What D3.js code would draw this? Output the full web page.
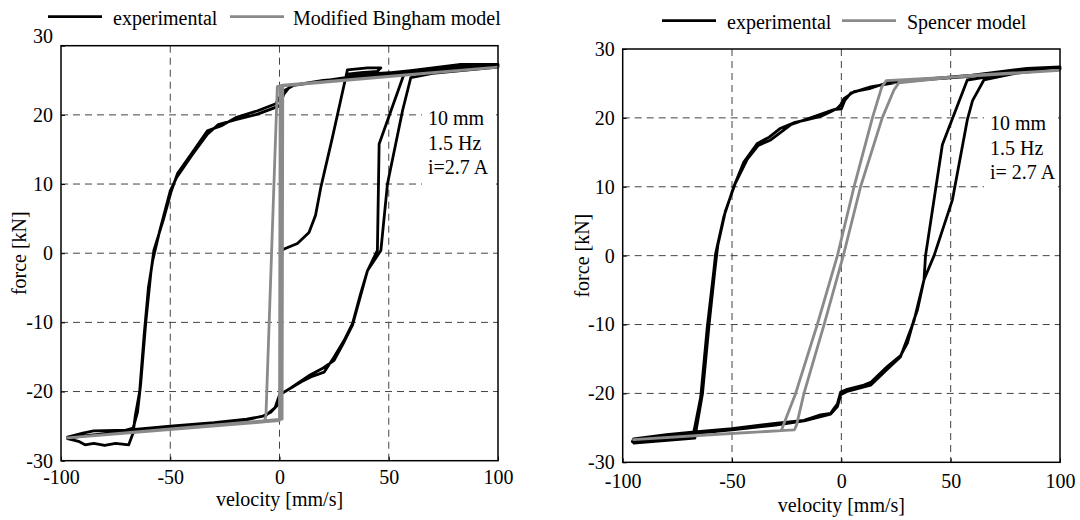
<!DOCTYPE html>
<html lang="en">
<head>
  <meta charset="UTF-8">
  <title>MR damper force-velocity loops</title>
  <script src="https://d3js.org/d3.v7.min.js"></script>
  <style>
    body { margin: 0; background: #fff; }
    svg text { font-family: "Liberation Serif", "Times New Roman", serif; fill: #000; }
    .grid line { stroke: #444; stroke-width: 1; stroke-dasharray: 7,5; }
    .frame { fill: none; stroke: #000; stroke-width: 1.5; }
  </style>
</head>
<body>
<svg id="chart" width="1080" height="520"></svg>
<script>
  // axis ticks
  const velTicks = [-100, -50, 0, 50, 100];
  const forceTicks = [-30, -20, -10, 0, 10, 20, 30];

  // left panel: experimental loop (velocity mm/s, force kN), two cycles + start transient
  const expBingham = [
    [0.5, 0.3], [2.1, 0.6], [8.2, 1.4], [13.5, 3.0], [16.5, 5.5], [18.9, 9.5], [24.2, 16.7], [29.6, 24.4],
    [31.1, 26.5], [40.3, 26.8], [46.4, 26.8], [44.8, 26.3], [37.2, 26.1], [31.1, 25.9], [45, 26.0],
    [60, 26.3], [80, 27.0], [100, 27.3],
    [100, 27.1], [80, 26.6], [60, 26.0], [40, 25.5], [20, 25.0], [6.7, 24.3], [2.1, 23.5], [0, 22.5],
    [-1.7, 21.6], [-10, 20.6], [-20, 19.6], [-26.8, 18.4], [-33, 17.7], [-40, 14.5], [-46.7, 11.5],
    [-49.7, 8.8], [-53, 5.0], [-57.5, 0.4], [-58.9, -2.9], [-61.2, -10], [-63.5, -18.8], [-65, -23],
    [-67, -25.3], [-75, -26.0], [-97, -26.6],
    [-90, -26.0], [-85, -25.7], [-70, -25.6], [-50, -25.0], [-30, -24.5], [-15, -24.0], [-8, -23.6],
    [-4, -23.0], [-1, -22.0], [0, -21.0], [1, -20.3], [10, -18.6], [14.3, -17.9], [20.4, -17.2],
    [25, -15.0], [29.6, -12.6], [33.4, -10.2], [37, -6.0], [40.3, -2.5], [44.8, 0.4], [45.6, 15.8],
    [57, 25.9], [70, 26.3], [100, 27.0],
    [100, 27.3], [83, 27.3], [60, 26.4], [30, 25.4], [5, 24.2], [2, 23.0], [0, 21.3], [-10, 20.1],
    [-20, 19.3], [-28, 18.6], [-33, 17.2], [-40, 14.2], [-47, 11.0], [-50, 9.0], [-55, 3.0], [-58, -1.0],
    [-60, -5.0], [-62, -12], [-64, -20], [-66, -23.5], [-67, -26], [-69, -27.7], [-75, -27.5],
    [-80, -27.8], [-85, -27.5], [-89, -27.7], [-92, -27.2], [-97, -26.8],
    [-90, -26.4], [-70, -25.8], [-50, -25.1], [-30, -24.6], [-15, -24.1], [-6, -23.4], [-2, -22.3],
    [0, -20.5], [5, -19.5], [14, -17.6], [20, -16.6], [25, -15.5], [29.6, -12.8], [33.4, -10.4],
    [40.3, -2.5], [46.4, 0.4], [49.4, 10], [56.3, 20.6], [60.1, 25.4], [70, 26.0], [100, 26.9]
  ];

  // left panel: modified Bingham model
  const modelBingham = [
    [-97, -26.7], [0, -24.2], [0.3, 24.2], [100, 26.9],
    [1.5, 24.3], [-1, 24.1], [-6.2, -23.5], [-7, -24.4], [-97, -26.7],
    [1.2, -24.0], [1.5, 24.2], [100, 26.9]
  ];

  // right panel: experimental loop
  const expSpencer = [
    [100, 27.1], [82, 27.0], [57.6, 26.0], [40, 25.6], [21, 25.1], [13.4, 24.3], [5.8, 23.8], [1.2, 22.8],
    [-0.3, 21.9], [-1.8, 21.4], [-4.9, 20.9], [-9.5, 20.2], [-16, 19.7], [-21.7, 19.3], [-27.8, 18.5],
    [-33, 17.2], [-38.4, 16.3], [-44.6, 13.6], [-49.2, 10], [-53.7, 5.7], [-57.5, 0.3], [-58.3, -2.1],
    [-61.3, -10.3], [-64.3, -20.5], [-67.3, -25.3], [-68, -26.2], [-80, -26.7], [-95.6, -27.0],
    [-95, -26.6], [-80, -26.0], [-67, -25.6], [-50, -25.1], [-29.3, -24.3], [-17.1, -23.9], [-9.5, -23.1],
    [-4.9, -22.9], [-3.4, -22.2], [-1.8, -21.5], [-0.3, -19.8], [2.7, -19.4], [10.3, -18.8], [13.4, -18.4],
    [21, -16.1], [27.1, -14.5], [30.2, -12.7], [33.2, -9.3], [34.8, -7.9], [37.8, -3.5], [42.4, 0],
    [50.8, 8.1], [57.6, 19.7], [60, 22.5], [65.2, 25.5], [80, 26.5], [100, 27.1],
    [100, 27.4], [85, 27.2], [60, 26.2], [30, 25.4], [13.4, 24.5], [4.3, 23.6], [1.5, 22.5], [0, 21.3],
    [-3.4, 21.2], [-9.5, 20.5], [-23.2, 19.0], [-32.3, 16.8], [-38, 16.0], [-43, 14.0], [-48.5, 10.5],
    [-53, 6.5], [-56.5, 1.5], [-57.8, -2], [-60.5, -10], [-63.5, -20], [-66.5, -25.5], [-67, -26.5],
    [-95, -27.2],
    [-95, -26.8], [-70, -25.9], [-50, -25.3], [-30, -24.6], [-17, -24.0], [-4.9, -23.0], [-1.8, -21.9],
    [-0.3, -20.2], [2.7, -19.7], [13.4, -18.8], [21, -16.5], [27, -14.7], [33.2, -9.5], [37.8, -3.5],
    [38.5, 0], [46.2, 16.1], [57.6, 25.5], [75, 26.4], [100, 27.3]
  ];

  // right panel: Spencer model
  const modelSpencer = [
    [100, 26.9], [60, 26.2], [26.3, 25.1], [24, 24], [18.7, 20], [8.8, 10], [0.9, 0], [-7.9, -10],
    [-17.1, -20], [-20.5, -24.6], [-21.5, -25.3], [-50, -25.8], [-95, -26.7],
    [-60, -26.0], [-27.5, -25.4], [-26.5, -24.6], [-20.9, -20], [-11, -10], [-1.8, 0], [5.8, 10],
    [14.2, 20], [18.5, 24.5], [20.5, 25.4], [50, 25.9], [100, 26.9]
  ];

  const panels = [
    { x0: 61, x1: 498, yTop: 45.7, yBot: 460.7, exp: expBingham, model: modelBingham,
      tickBase: 23, titleBase: 45.5, yTitleX: 19, topShift: -10,
      legend: { y: 16.7, l1: 48, t1: 113, l2: 230, t2: 293 },
      modelName: "Modified Bingham model",
      note: ["10 mm", "1.5 Hz", "i=2.7 A"], noteX: 428, noteY: 125 },
    { x0: 622.7, x1: 1060, yTop: 49, yBot: 462.3, exp: expSpencer, model: modelSpencer,
      tickBase: 26, titleBase: 50, yTitleX: 582, topShift: 0,
      legend: { y: 20.7, l1: 662, t1: 727, l2: 842, t2: 907 },
      modelName: "Spencer model",
      note: ["10 mm", "1.5 Hz", "i= 2.7 A"], noteX: 990, noteY: 130 }
  ];

  const fmt = d => String(d).replace("\u2212", "-");
  const svg = d3.select("#chart");

  panels.forEach(p => {
    const x = d3.scaleLinear().domain([-100, 100]).range([p.x0, p.x1]);
    const y = d3.scaleLinear().domain([-30, 30]).range([p.yBot, p.yTop]);
    const g = svg.append("g");

    // grid
    const grid = g.append("g").attr("class", "grid");
    grid.selectAll(".gx").data(velTicks.slice(1, -1)).enter().append("line")
      .attr("x1", d => x(d)).attr("x2", d => x(d)).attr("y1", p.yTop).attr("y2", p.yBot);
    grid.selectAll(".gy").data(forceTicks.slice(1, -1)).enter().append("line")
      .attr("y1", d => y(d)).attr("y2", d => y(d)).attr("x1", p.x0).attr("x2", p.x1);

    // white box behind the annotation
    g.append("rect")
      .attr("x", p.noteX - 6).attr("y", p.noteY - 22)
      .attr("width", p.x1 - p.noteX + 4).attr("height", 82)
      .attr("fill", "#fff");

    const line = d3.line().x(d => x(d[0])).y(d => y(d[1]));

    g.append("path").datum(p.exp)
      .attr("d", line).attr("fill", "none").attr("stroke", "#000")
      .attr("stroke-width", 2.8).attr("stroke-linejoin", "round");
    g.append("path").datum(p.model)
      .attr("d", line).attr("fill", "none").attr("stroke", "#8a8a8a")
      .attr("stroke-width", 2.8).attr("stroke-linejoin", "round");

    // frame + axes
    g.append("rect").attr("class", "frame")
      .attr("x", p.x0).attr("y", p.yTop).attr("width", p.x1 - p.x0).attr("height", p.yBot - p.yTop);

    g.append("g").attr("transform", `translate(0,${p.yBot})`)
      .call(d3.axisBottom(x).tickValues(velTicks).tickSize(-4).tickFormat(fmt))
      .call(a => a.select(".domain").remove())
      .call(a => a.selectAll("text").attr("font-size", 20).attr("font-family", "Liberation Serif")
        .attr("y", p.tickBase).attr("dy", 0));
    g.append("g").attr("transform", `translate(${p.x0},0)`)
      .call(d3.axisLeft(y).tickValues(forceTicks).tickSize(-4).tickPadding(8).tickFormat(fmt))
      .call(a => a.select(".domain").remove())
      .call(a => a.selectAll("text").attr("font-size", 20).attr("font-family", "Liberation Serif")
        .attr("y", d => d === 30 ? p.topShift : 0));

    g.append("text")
      .attr("x", (p.x0 + p.x1) / 2).attr("y", p.yBot + p.titleBase)
      .attr("text-anchor", "middle").attr("font-size", 20)
      .text("velocity [mm/s]");
    g.append("text")
      .attr("transform", `translate(${p.yTitleX},${(p.yTop + p.yBot) / 2}) rotate(-90)`)
      .attr("text-anchor", "middle").attr("font-size", 20).attr("dy", "0.35em")
      .text("force [kN]");

    // annotation
    g.append("text").attr("font-size", 20)
      .selectAll("tspan").data(p.note).enter().append("tspan")
      .attr("x", p.noteX).attr("y", (d, i) => p.noteY + i * 24.5)
      .text(d => d);

    // legend
    const L = p.legend;
    g.append("line").attr("x1", L.l1).attr("x2", L.l1 + 54)
      .attr("y1", L.y).attr("y2", L.y).attr("stroke", "#000").attr("stroke-width", 2.8);
    g.append("text").attr("x", L.t1).attr("y", L.y + 8).attr("font-size", 20).text("experimental");
    g.append("line").attr("x1", L.l2).attr("x2", L.l2 + 54)
      .attr("y1", L.y).attr("y2", L.y).attr("stroke", "#8a8a8a").attr("stroke-width", 2.8);
    g.append("text").attr("x", L.t2).attr("y", L.y + 8).attr("font-size", 20).text(p.modelName);
  });
</script>
</body>
</html>
